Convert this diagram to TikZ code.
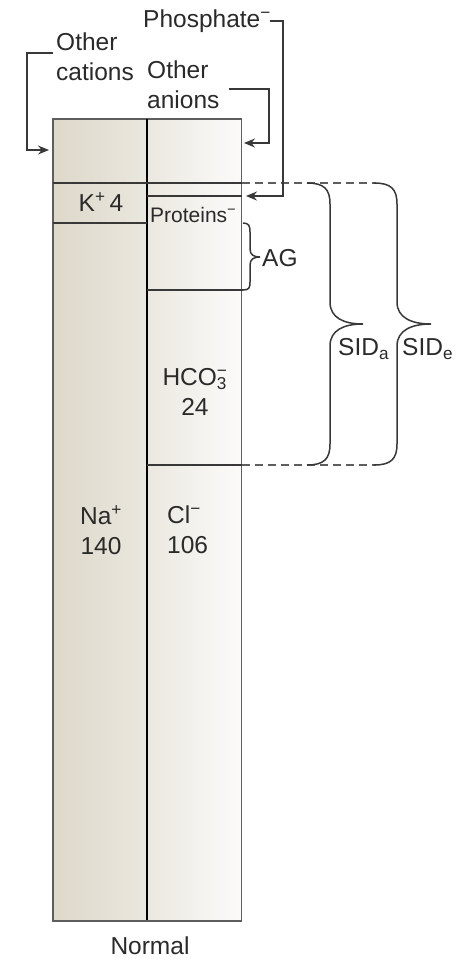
\documentclass[tikz,border=0pt]{standalone}
\usepackage{fontspec}
\setmainfont{Liberation Sans}
\usetikzlibrary{arrows.meta}
\definecolor{txt}{HTML}{2A2A2A}
\definecolor{lnc}{HTML}{383838}
\definecolor{frm}{HTML}{5E5E5E}
\definecolor{lcA}{HTML}{DDD8CA}
\definecolor{lcB}{HTML}{EAE7DE}
\definecolor{rcA}{HTML}{EBE8E0}
\definecolor{rcB}{HTML}{FBFBFA}
\begin{document}
\begin{tikzpicture}[x=1pt,y=-1pt,
  lbl/.style={font=\fontsize{24.5}{30}\selectfont, text=txt, inner sep=0pt},
  small/.style={font=\fontsize{21}{25}\selectfont, text=txt, inner sep=0pt},
  seg/.style={draw=lnc, line width=1.5pt},
  dashline/.style={draw=frm, line width=1.3pt, dash pattern=on 8pt off 5pt},
  brace/.style={draw=lnc, line width=1.5pt},
  arr/.style={draw=lnc, line width=1.5pt, -{Stealth[length=11pt,width=9pt]}},
  colbox/.style={draw=frm, line width=1.6pt, minimum width=94pt, minimum height=802pt, inner sep=0pt, outer sep=0pt}]
\useasboundingbox (0,0) rectangle (462,959);

% columns
\node[colbox, left color=lcA, right color=lcB] (cat) at (100,520) {};
\node[colbox, left color=rcA, right color=rcB] (an) at (194.5,520) {};
\draw[black, line width=2.8pt] (cat.north east) -- (cat.south east);
\draw[frm, line width=2.4pt] (cat.south west) -- (an.south east);

% horizontal cell lines
\coordinate (kTopL) at (53,183);
\coordinate (kTopR) at (242,183);
\coordinate (kBotL) at (53,223);
\coordinate (kBotR) at (147,223);
\coordinate (phL) at (147,196);
\coordinate (phR) at (242,196);
\coordinate (agL) at (147,290);
\coordinate (agR) at (243,290);
\coordinate (hcL) at (147,465);
\coordinate (hcR) at (242,465);
\draw[seg] (kTopL) -- (kTopR);
\draw[seg] (kBotL) -- (kBotR);
\draw[seg] (phL) -- (phR);
\draw[seg] (agL) -- (agR);
\draw[seg] (hcL) -- (hcR);

% dashed extensions
\coordinate (dTop) at (376,183);
\coordinate (dBot) at (376,465);
\draw[dashline] (kTopR) -- (dTop);
\draw[dashline] (hcR) -- (dBot);

% AG brace
\coordinate (agTop) at (243,223);
\coordinate (agTip) at (260,257);
\draw[brace] (agTop) .. controls (249,223) and (250,226) .. (250,232) -- (250,249)
  .. controls (250,255) and (254,257) .. (agTip)
  .. controls (254,257) and (250,259) .. (250,265) -- (250,282)
  .. controls (250,288) and (249,290) .. (agR);

% SID_a brace
\coordinate (saTop) at (307,183);
\coordinate (saTip) at (363,324);
\coordinate (saBot) at (307,465);
\draw[brace] (saTop) .. controls (324,183) and (330,189) .. (330,204) -- (330,302)
  .. controls (330,318) and (344,324) .. (saTip)
  .. controls (344,324) and (330,330) .. (330,346) -- (330,444)
  .. controls (330,459) and (324,465) .. (saBot);

% SID_e brace
\coordinate (seTop) at (374,183);
\coordinate (seTip) at (431,324);
\coordinate (seBot) at (374,465);
\draw[brace] (seTop) .. controls (391,183) and (397,189) .. (397,204) -- (397,302)
  .. controls (397,318) and (412,324) .. (seTip)
  .. controls (412,324) and (397,330) .. (397,346) -- (397,444)
  .. controls (397,459) and (391,465) .. (seBot);

% labels inside columns
\node[lbl] (k) at (101,202) {K\textsuperscript{+}\,4};
\node[small, anchor=west] (prot) at (150,215) {Proteins\textsuperscript{−}};
\node[lbl, align=center] (hco) at (195,392) {HCO\rlap{\textsubscript{3}}\textsuperscript{−}\\24};
\node[lbl, align=center] (na) at (101,530) {Na\textsuperscript{+}\\140};
\node[lbl, align=left, anchor=west] (cl) at (167,530) {Cl\textsuperscript{−}\\106};
\node[lbl] (normal) at (150,946) {Normal};

% bracket labels
\node[lbl, anchor=west] (ag) at (262,258) {AG};
\node[lbl, anchor=west] (sida) at (338,349) {SID\textsubscript{a}};
\node[lbl, anchor=west] (side) at (402,349) {SID\textsubscript{e}};

% top labels
\node[lbl, align=left, anchor=west] (ocat) at (56,57) {Other\\cations};
\node[lbl, align=left, anchor=west] (oan) at (147,85) {Other\\anions};
\node[lbl, anchor=west] (phos) at (143,21) {Phosphate\textsuperscript{−}};

% connectors
\coordinate (oc1) at (53,53);
\coordinate (oc2) at (27,53);
\coordinate (oc3) at (27,150);
\coordinate (oc4) at (49,150);
\draw[arr] (oc1) -- (oc2) -- (oc3) -- (oc4);

\coordinate (oa1) at (229,89);
\coordinate (oa2) at (269,89);
\coordinate (oa3) at (269,143);
\coordinate (oa4) at (244,143);
\draw[arr] (oa1) -- (oa2) -- (oa3) -- (oa4);

\coordinate (ph1) at (270,21);
\coordinate (ph2) at (283,21);
\coordinate (ph3) at (283,196);
\coordinate (ph4) at (246,196);
\draw[arr] (ph1) -- (ph2) -- (ph3) -- (ph4);
\end{tikzpicture}
\end{document}
